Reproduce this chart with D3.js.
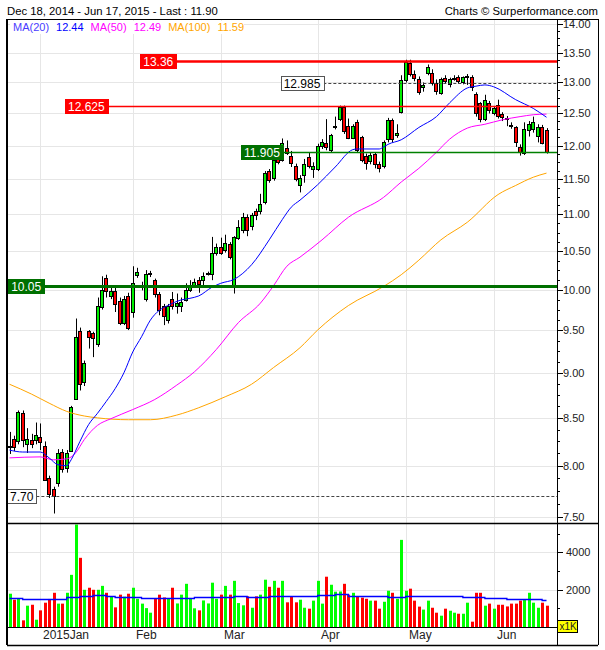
<!DOCTYPE html>
<html><head><meta charset="utf-8">
<script src="https://cdn.jsdelivr.net/npm/d3@7"></script>
<style>
body{margin:0;background:#fff}
svg{display:block}
text{font-family:"Liberation Sans",Arial,sans-serif}
</style>
</head><body>
<svg id="c" width="605" height="650"></svg>
<script>
// ---------------- data ----------------
const opens = [8.19,8.28,8.25,8.55,8.22,8.27,8.27,8.30,8.20,7.88,
7.77,7.83,8.14,7.98,8.15,8.71,9.49,8.90,9.49,9.46,
9.33,9.78,10.15,9.92,9.98,9.86,9.59,9.92,9.72,10.19,
10.03,9.88,10.20,10.12,9.95,9.79,9.62,9.88,9.80,9.79,
9.87,10.00,10.05,10.12,10.12,10.20,10.20,10.48,10.55,10.51,
10.59,10.06,10.68,10.78,10.96,10.84,11.04,11.04,11.18,11.62,
11.52,11.89,11.79,11.97,11.85,11.70,11.42,11.56,11.83,11.65,
11.65,12.00,12.04,11.94,12.29,12.41,12.60,12.31,12.12,12.37,
12.14,11.85,11.77,11.87,11.73,11.69,12.10,12.40,12.17,12.52,
13.04,13.33,13.14,13.06,12.93,13.15,13.15,12.99,12.83,13.08,
12.97,13.07,13.09,13.00,13.10,13.09,12.81,12.66,12.42,12.66,
12.51,12.64,12.49,12.43,12.32,12.28,11.98,11.89,12.24,12.25,
12.15,12.29,12.24];
const highs = [8.35,8.31,8.58,8.58,8.39,8.33,8.45,8.44,8.25,7.90,
7.79,8.17,8.17,8.16,8.63,9.64,9.53,9.14,9.50,9.48,
9.90,10.17,10.19,10.05,10.02,9.90,9.92,9.96,10.30,10.28,
10.10,10.25,10.24,10.14,9.97,9.82,9.82,9.97,9.95,9.90,
10.08,10.12,10.14,10.16,10.22,10.23,10.69,10.60,10.68,10.72,
10.62,10.70,10.92,11.02,11.00,11.02,11.08,11.29,11.62,11.65,
11.82,11.95,12.11,12.08,11.92,11.73,11.56,11.80,11.90,11.75,
12.03,12.10,12.41,12.18,12.45,12.625,12.625,12.42,12.33,12.40,
12.15,11.88,11.90,11.90,11.76,12.08,12.43,12.42,12.33,13.12,
13.38,13.38,13.20,13.10,13.00,13.30,13.22,13.05,13.08,13.12,
13.08,13.12,13.12,13.10,13.14,13.12,12.84,12.68,12.80,12.70,
12.62,12.72,12.52,12.46,12.36,12.30,12.02,12.36,12.38,12.45,
12.33,12.32,12.27];
const lows = [8.12,8.15,8.22,8.19,8.13,8.18,8.22,8.16,7.85,7.68,
7.53,7.79,7.93,7.93,8.14,8.70,8.80,8.85,9.28,9.18,
9.30,9.75,9.90,9.88,9.72,9.56,9.56,9.50,9.65,10.15,
9.99,9.85,10.16,9.90,9.68,9.56,9.58,9.75,9.70,9.72,
9.85,9.97,10.02,9.96,10.05,10.18,10.12,10.44,10.45,10.48,
10.39,9.95,10.65,10.74,10.70,10.78,10.92,11.00,11.14,11.45,
11.48,11.72,11.76,11.86,11.68,11.47,11.31,11.45,11.66,11.52,
11.62,11.95,11.93,11.90,12.25,12.38,12.18,12.10,12.10,11.90,
11.75,11.64,11.72,11.66,11.60,11.66,12.05,12.05,12.12,12.50,
13.00,13.10,13.02,12.80,12.85,13.12,12.95,12.80,12.80,12.98,
12.92,13.03,12.98,12.97,12.96,12.86,12.45,12.36,12.38,12.50,
12.47,12.42,12.38,12.30,12.26,11.98,11.85,11.86,12.14,12.20,
12.05,12.02,11.88];
const closes = [8.20,8.19,8.56,8.26,8.28,8.22,8.32,8.24,7.86,7.72,
7.70,8.13,7.97,8.13,8.62,9.42,8.87,9.11,9.42,9.41,
9.79,9.99,9.98,9.98,9.82,9.59,9.88,9.53,10.09,10.22,
10.06,10.20,10.21,9.94,9.74,9.67,9.79,9.80,9.83,9.85,
10.00,10.05,10.10,10.07,10.17,10.21,10.47,10.55,10.48,10.61,
10.42,10.69,10.83,10.96,10.79,10.99,10.99,11.15,11.59,11.49,
11.78,11.76,12.04,11.89,11.74,11.50,11.52,11.73,11.69,11.70,
12.00,12.06,11.98,12.17,12.31,12.61,12.22,12.12,12.31,11.94,
11.79,11.74,11.86,11.73,11.66,12.05,12.40,12.10,12.20,13.04,
13.34,13.14,13.08,12.84,12.96,13.26,12.99,12.86,13.05,13.02,
13.05,13.08,13.02,13.09,13.11,12.92,12.50,12.42,12.71,12.55,
12.58,12.46,12.45,12.42,12.30,12.05,11.90,12.25,12.33,12.37,
12.28,12.04,11.90];
const volumes = [1780,1460,1530,356,1140,1190,390,890,1300,1500,
1830,1250,1250,1830,2790,5480,3700,1990,2100,1990,
1990,2200,1830,1640,1050,1730,1620,1780,2100,1510,
1250,1010,765,1550,1730,1580,1550,2100,1260,1730,
2310,1510,1000,890,1420,1260,2370,1510,1730,2200,
1730,2470,1280,1160,1640,1030,1640,1730,2530,2150,
2470,2100,2470,1320,1620,1320,1460,1030,980,1410,
2470,1250,2690,2260,1890,1900,2310,1730,1830,1620,
1570,1510,1410,1410,980,1350,1940,1830,1510,4660,
1940,2050,1410,1090,930,1410,1030,765,605,980,
870,765,710,710,1300,285,1830,1830,1140,1250,
980,1190,1190,1100,1250,1250,1410,1460,1830,1300,
1030,1300,1140];

const ma20Idx = [0,3,7,9,11,13,14,16,18,20,22,24,26,28,30,32,34,36,39,41,43,46,48,51,55,59,62,64,66,70,74,78,79,84,85,86,89,93,97,100,104,106,108,110,115,119,122];
const ma20Val = [8.16,8.14,8.14,8.08,8.01,8.00,8.06,8.25,8.43,8.55,8.68,8.82,9.00,9.24,9.42,9.62,9.74,9.80,9.87,9.89,9.92,10.03,10.08,10.13,10.32,10.65,10.93,11.10,11.20,11.42,11.68,11.94,11.95,11.95,11.98,12.02,12.09,12.28,12.45,12.67,12.91,12.94,12.96,12.93,12.72,12.58,12.44];
const ma50Idx = [0,7,10,13,15,17,20,23,28,33,38,42,47,52,57,60,63,66,71,77,85,89,93,97,100,104,108,112,116,119,122];
const ma50Val = [8.08,8.09,8.06,8.07,8.13,8.27,8.42,8.49,8.59,8.70,8.86,9.01,9.27,9.59,9.83,10.05,10.30,10.42,10.65,10.96,11.24,11.46,11.66,11.90,12.10,12.27,12.33,12.40,12.45,12.48,12.49];
const ma100Idx = [0,5,9,13,17,20,27,32,38,43,49,55,60,66,70,77,85,89,93,98,104,111,115,119,122];
const ma100Val = [8.87,8.76,8.66,8.57,8.52,8.50,8.48,8.48,8.53,8.61,8.73,8.87,9.06,9.29,9.50,9.80,10.04,10.19,10.38,10.65,10.89,11.28,11.41,11.53,11.59];
const volMaIdx = [0,3,7,10,13,16,19,22,24,30,36,42,48,51,54,59,63,70,74,77,80,86,90,95,99,103,108,113,118,121,122];
const volMaVal = [1550,1520,1480,1520,1580,1640,1700,1650,1580,1560,1540,1580,1600,1640,1620,1660,1680,1700,1760,1680,1640,1610,1660,1670,1640,1590,1560,1520,1480,1420,1420];

const monthIdx = [7,28,48,70,90,110];
const monthLabels = ["2015Jan","Feb","Mar","Apr","May","Jun"];
const priceTicks = [7.5,8,8.5,9,9.5,10,10.5,11,11.5,12,12.5,13,13.5,14];
const volTicks = [2000,4000];
const levelValues = [13.36,12.625,12.985,11.905,10.05,7.70];
const levelLabels = ["13.36","12.625","12.985","11.905","10.05","7.70"];
const levelAnchor = [29.7,12.6,61.6,52.6,-0.3,-0.6];
const legendNames = ["MA(20)","MA(50)","MA(100)"];
const legendValues = ["12.44","12.49","11.59"];

// ---------------- layout ----------------
const L=7, R=557, T=19, PB=523, VB=627, FB=645, FR=598;
const svg = d3.select("#c");
const x = d3.scaleLinear().domain([0,122]).range([9.5,546.5]);
const y = d3.scaleLog().domain([7.44,14.089]).range([PB,T]);
const yv = d3.scaleLinear().domain([0,5563]).range([VB,PB]);
const px = i => Math.round(x(i));

const gridC = "#e6e6e6";
const g = svg.append("g");
g.selectAll(".hg").data(priceTicks).join("line")
  .attr("x1",L).attr("x2",R).attr("y1",d=>Math.round(y(d))+0.5).attr("y2",d=>Math.round(y(d))+0.5)
  .attr("stroke",gridC);
g.selectAll(".vg").data(monthIdx).join("line")
  .attr("x1",d=>px(d)+0.5).attr("x2",d=>px(d)+0.5).attr("y1",T).attr("y2",VB)
  .attr("stroke",gridC);
g.selectAll(".vhg").data(volTicks).join("line")
  .attr("x1",L).attr("x2",R).attr("y1",d=>Math.round(yv(d))+0.5).attr("y2",d=>Math.round(yv(d))+0.5)
  .attr("stroke",gridC);

svg.append("clipPath").attr("id","pc").append("rect").attr("x",L).attr("y",T).attr("width",R-L).attr("height",PB-T);
svg.append("clipPath").attr("id","vc").append("rect").attr("x",L).attr("y",PB).attr("width",R-L).attr("height",VB-PB);

const idx = d3.range(opens.length);
const up = i => closes[i] >= opens[i];
const GREEN = "#00ee00", RED = "#ff0000";

// candles
const cg = svg.append("g").attr("clip-path","url(#pc)");
cg.selectAll(".w").data(idx).join("line")
  .attr("x1",i=>px(i)+0.5).attr("x2",i=>px(i)+0.5)
  .attr("y1",i=>y(highs[i])).attr("y2",i=>y(lows[i]))
  .attr("stroke","#000").attr("stroke-width",1);
cg.selectAll(".b").data(idx).join("rect")
  .attr("x",i=>px(i)-1.5).attr("width",3)
  .attr("y",i=>Math.round(y(Math.max(opens[i],closes[i])))+0.5)
  .attr("height",i=>Math.max(1,Math.round(y(Math.min(opens[i],closes[i])))-Math.round(y(Math.max(opens[i],closes[i])))))
  .attr("fill",i=>up(i)?GREEN:RED).attr("stroke","#000").attr("stroke-width",1);

// moving averages
const maLine = (I,V)=>d3.line().x((d,k)=>x(I[k])).y(d=>y(d)).curve(d3.curveMonotoneX)(V);
const mg = svg.append("g").attr("clip-path","url(#pc)").attr("fill","none").attr("stroke-width",1);
mg.append("path").attr("d",maLine(ma100Idx,ma100Val)).attr("stroke","#ffa500");
mg.append("path").attr("d",maLine(ma50Idx,ma50Val)).attr("stroke","#ff00ff");
mg.append("path").attr("d",maLine(ma20Idx,ma20Val)).attr("stroke","#0000ff");

// level lines + labels
const levelStyle = [
  {line:"#ff0000",w:2.5,dash:null,box:"#ff0000",txt:"#fff",bd:"#ff0000"},
  {line:"#ff0000",w:1.5,dash:null,box:"#ff0000",txt:"#fff",bd:"#ff0000"},
  {line:"#444",w:1,dash:"3,2",box:"#fff",txt:"#000",bd:"#555"},
  {line:"#008000",w:1.3,dash:null,box:"#007000",txt:"#fff",bd:"#007000"},
  {line:"#007000",w:3,dash:null,box:"#007000",txt:"#fff",bd:"#007000"},
  {line:"#444",w:1,dash:"3,2",box:"#fff",txt:"#000",bd:"#555"}
];
const lg = svg.append("g");
levelValues.forEach((v,k)=>{
  const st = levelStyle[k];
  const yy = Math.round(y(v));
  const bx = Math.max(L, x(levelAnchor[k]));
  const t = lg.append("text").attr("x",bx+3).attr("y",yy+4.5).attr("font-size","12px").attr("fill",st.txt)
     .text(levelLabels[k]);
  const bw = t.node().getComputedTextLength()+6;
  lg.insert("line","text").attr("x1",bx+bw).attr("x2",R).attr("y1",yy+0.5).attr("y2",yy+0.5)
    .attr("stroke",st.line).attr("stroke-width",st.w).attr("stroke-dasharray",st.dash);
  lg.insert("rect","text").attr("x",Math.round(bx)+0.5).attr("y",yy-6.5).attr("width",Math.round(bw)).attr("height",14)
    .attr("fill",st.box).attr("stroke",st.bd).attr("stroke-width",1);
});

// volume
const vg = svg.append("g").attr("clip-path","url(#vc)");
vg.selectAll(".v").data(idx).join("rect")
  .attr("x",i=>px(i)-1).attr("width",3)
  .attr("y",i=>yv(volumes[i])).attr("height",i=>VB-yv(volumes[i]))
  .attr("fill",i=>up(i)?"#00ff00":"#ff0000");
vg.append("path")
  .attr("d",d3.line().x((d,k)=>x(volMaIdx[k])).y(d=>Math.round(yv(d))+0.5).curve(d3.curveStepAfter)(volMaVal))
  .attr("fill","none").attr("stroke","#0000ff").attr("stroke-width",1.3);

// axes
const ax = svg.append("g").attr("font-size","11px").attr("fill","#222");
const minor = d3.range(7.5,14.0001,0.125);
ax.selectAll(".mt").data(minor).join("line")
  .attr("x1",R).attr("x2",d=>R+(Math.abs(d*2-Math.round(d*2))<1e-6?6:3))
  .attr("y1",d=>Math.round(y(d))+0.5).attr("y2",d=>Math.round(y(d))+0.5).attr("stroke","#000");
ax.selectAll(".pl").data(priceTicks).join("text")
  .attr("x",R+6).attr("y",d=>y(d)+4).text(d=>d.toFixed(2));
const vminor = d3.range(1000,5001,1000);
ax.selectAll(".vt").data(vminor).join("line")
  .attr("x1",R).attr("x2",d=>R+(d%2000===0?6:3))
  .attr("y1",d=>Math.round(yv(d))+0.5).attr("y2",d=>Math.round(yv(d))+0.5).attr("stroke","#000");
ax.selectAll(".vl").data(volTicks).join("text")
  .attr("x",R+9).attr("y",d=>yv(d)+4).text(d=>d);
ax.selectAll(".ml").data(monthIdx).join("text")
  .attr("x",d=>px(d)+3).attr("y",639).attr("font-size","12px").text((d,k)=>monthLabels[k]);
ax.append("rect").attr("x",R+0.5).attr("y",620.5).attr("width",20).attr("height",12).attr("fill","#ffff00").attr("stroke","#000");
ax.append("text").attr("x",R+2.5).attr("y",630).attr("font-size","10px").text("x1K");

// frame
const fr = svg.append("g").attr("stroke","#000").attr("fill","none");
fr.append("line").attr("x1",L).attr("x2",L).attr("y1",T).attr("y2",FB).attr("stroke-width",2);
fr.append("line").attr("x1",L).attr("x2",FR).attr("y1",T+0.5).attr("y2",T+0.5);
fr.append("line").attr("x1",L).attr("x2",FR).attr("y1",PB+0.5).attr("y2",PB+0.5).attr("stroke-width",1.5);
fr.append("line").attr("x1",L).attr("x2",R).attr("y1",VB+0.5).attr("y2",VB+0.5);
fr.append("line").attr("x1",L).attr("x2",FR).attr("y1",FB+0.5).attr("y2",FB+0.5).attr("stroke-width",1.5);
fr.append("line").attr("x1",R+0.5).attr("x2",R+0.5).attr("y1",T).attr("y2",FB);
fr.append("line").attr("x1",FR+0.5).attr("x2",FR+0.5).attr("y1",T).attr("y2",FB);

// header
svg.append("text").attr("x",7).attr("y",15).attr("font-size","11.3px").attr("fill","#000")
  .text("Dec 18, 2014 - Jun 17, 2015 - Last : 11.90");
svg.append("text").attr("x",598).attr("y",15).attr("text-anchor","end").attr("font-size","11.3px").attr("fill","#000")
  .text("Charts © Surperformance.com");

// legend
const leg = svg.append("g").attr("font-size","11px");
const legColors = [["#4a3cff","#0000ff"],["#ff00ff","#ff00ff"],["#ffa500","#ffa500"]];
let lx = 13;
leg.append("rect").attr("x",10).attr("y",21).attr("width",234).attr("height",13).attr("fill","#fff");
legendNames.forEach((n,k)=>{
  const t1 = leg.append("text").attr("x",lx).attr("y",31).attr("fill",legColors[k][0]).text(n);
  lx += t1.node().getComputedTextLength()+7;
  const t2 = leg.append("text").attr("x",lx).attr("y",31).attr("fill",legColors[k][1]).text(legendValues[k]);
  lx += t2.node().getComputedTextLength()+7;
});
</script>
</body></html>
